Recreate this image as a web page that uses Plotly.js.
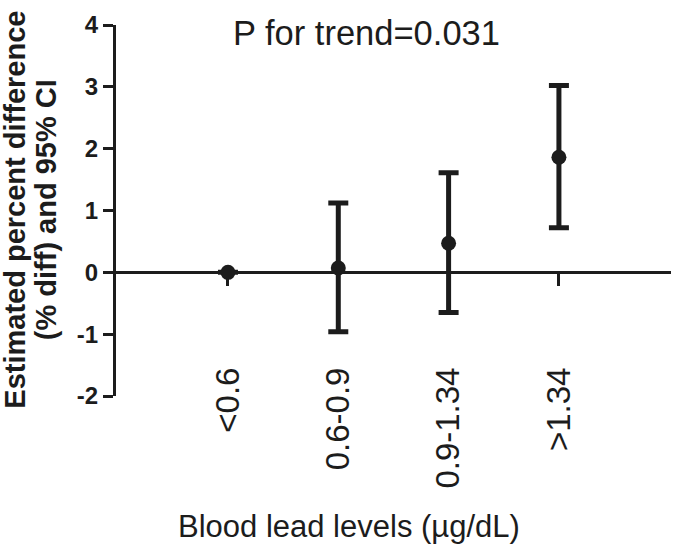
<!DOCTYPE html>
<html>
<head>
<meta charset="utf-8">
<script src="https://cdn.plot.ly/plotly-3.0.1.min.js"></script>
<style>html,body{margin:0;padding:0;background:#fff;}#chart{width:675px;height:551px;}</style>
</head>
<body>
<div id="chart"></div>
<script>
// Data
const categories = ["<0.6", "0.6-0.9", "0.9-1.34", ">1.34"];
const estimate = [0, 0.07, 0.47, 1.86];
const upperCI = [0, 1.12, 1.61, 3.02];
const lowerCI = [0, -0.96, -0.65, 0.72];
const yTicks = [-2, -1, 0, 1, 2, 3, 4];
const trendText = "P for trend=0.031";
const yTitleLines = ["Estimated percent difference", "(% diff) and 95% CI"];
const xTitle = "Blood lead levels (µg/dL)";

const xpos = categories.map((c, i) => i);
const errPlus = estimate.map((v, i) => upperCI[i] - v);
const errMinus = estimate.map((v, i) => v - lowerCI[i]);
const ink = "#1c1c1c";

const trace = {
  type: "scatter",
  mode: "markers",
  x: xpos,
  y: estimate,
  marker: {size: 15, color: ink},
  error_y: {
    type: "data", symmetric: false,
    array: errPlus, arrayminus: errMinus,
    color: ink, thickness: 5, width: 10
  },
  showlegend: false,
  hoverinfo: "skip"
};

const layout = {
  width: 675, height: 551,
  margin: {l: 116, r: 4, t: 25, b: 155},
  paper_bgcolor: "#fff", plot_bgcolor: "#fff",
  font: {family: "Liberation Sans, Arial, sans-serif", color: ink},
  xaxis: {
    range: [-1.015, 4.016],
    anchor: "free", position: 1/3,
    showline: true, linecolor: ink, linewidth: 3,
    showgrid: false, zeroline: false,
    tickmode: "array", tickvals: xpos, ticktext: categories,
    ticks: "outside", ticklen: 12, tickwidth: 3, tickcolor: ink,
    tickangle: -90, ticklabelstandoff: 68,
    tickfont: {size: 33, color: ink}
  },
  yaxis: {
    range: [-2, 4],
    showline: true, linecolor: ink, linewidth: 3,
    showgrid: false, zeroline: false,
    tickmode: "array", tickvals: yTicks, ticktext: yTicks.map(String),
    ticks: "outside", ticklen: 10, tickwidth: 3, tickcolor: ink,
    tickfont: {size: 24, color: ink, weight: "bold"},
    automargin: false
  },
  annotations: [
    {text: trendText, xref: "paper", yref: "paper", x: 0.452, y: 0.978,
     xanchor: "center", yanchor: "middle", showarrow: false,
     font: {size: 34.5, color: ink}},
    {text: xTitle, xref: "paper", yref: "paper", x: 0.42, y: -0.353,
     xanchor: "center", yanchor: "middle", showarrow: false,
     font: {size: 31, color: ink}},
    {text: "<b>" + yTitleLines[0] + "</b>", xref: "paper", yref: "paper", x: -0.181, y: 0.501,
     xanchor: "center", yanchor: "middle", textangle: -90, showarrow: false,
     font: {size: 29, color: ink}},
    {text: "<b>" + yTitleLines[1] + "</b>", xref: "paper", yref: "paper", x: -0.126, y: 0.501,
     xanchor: "center", yanchor: "middle", textangle: -90, showarrow: false,
     font: {size: 29, color: ink}}
  ]
};

Plotly.newPlot("chart", [trace], layout, {staticPlot: true, displayModeBar: false});
</script>
</body>
</html>
